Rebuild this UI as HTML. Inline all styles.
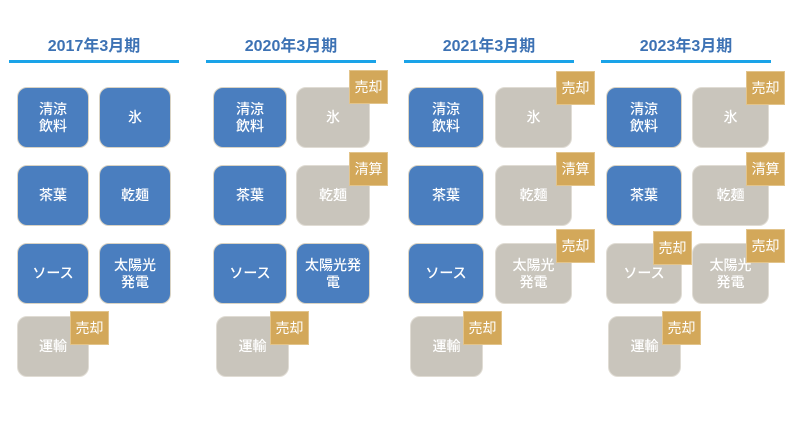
<!DOCTYPE html>
<html><head><meta charset="utf-8"><style>
body{margin:0;width:800px;height:423px;background:#fff;position:relative;overflow:hidden;font-family:"Liberation Sans","Noto Sans CJK JP",sans-serif}
.t{position:absolute;top:32px;width:170px;text-align:center;font-size:16px;font-weight:bold;color:#3d72b4}
.l{position:absolute;top:60px;width:170px;height:3px;background:#1aa3e8}
.b{position:absolute;border-radius:10px;display:flex;align-items:center;justify-content:center;text-align:center;color:#fff;font-size:14px;line-height:17px;font-weight:500;box-sizing:border-box;border:1px solid #d9d3c4}
.u{background:#4a7ebf}
.g{background:#c9c5bc;border-color:#e0dcd4}
.k{position:absolute;width:39px;height:34px;background:#d3a85a;color:#fff;font-size:14px;display:flex;align-items:center;justify-content:center;border:1px solid #e2c48c;box-sizing:border-box}
</style></head><body>
<div class="t" style="left:9px">2017年3月期</div><div class="l" style="left:9px"></div>
<div class="t" style="left:206px">2020年3月期</div><div class="l" style="left:206px"></div>
<div class="t" style="left:404px">2021年3月期</div><div class="l" style="left:404px"></div>
<div class="t" style="left:601px">2023年3月期</div><div class="l" style="left:601px"></div>

<div class="b u" style="left:17px;top:87px;width:72px;height:61px">清涼<br>飲料</div>
<div class="b u" style="left:99px;top:87px;width:72px;height:61px">氷</div>
<div class="b u" style="left:17px;top:165px;width:72px;height:61px">茶葉</div>
<div class="b u" style="left:99px;top:165px;width:72px;height:61px">乾麺</div>
<div class="b u" style="left:17px;top:243px;width:72px;height:61px">ソース</div>
<div class="b u" style="left:99px;top:243px;width:72px;height:61px">太陽光<br>発電</div>
<div class="b g" style="left:17px;top:316px;width:72px;height:61px">運輸</div>
<div class="k" style="left:70px;top:311px">売却</div>

<div class="b u" style="left:213px;top:87px;width:74px;height:61px">清涼<br>飲料</div>
<div class="b g" style="left:296px;top:87px;width:74px;height:61px">氷</div>
<div class="k" style="left:349px;top:70px">売却</div>
<div class="b u" style="left:213px;top:165px;width:74px;height:61px">茶葉</div>
<div class="b g" style="left:296px;top:165px;width:74px;height:61px">乾麺</div>
<div class="k" style="left:349px;top:152px">清算</div>
<div class="b u" style="left:213px;top:243px;width:74px;height:61px">ソース</div>
<div class="b u" style="left:296px;top:243px;width:74px;height:61px">太陽光発<br>電</div>
<div class="b g" style="left:216px;top:316px;width:73px;height:61px">運輸</div>
<div class="k" style="left:270px;top:311px">売却</div>

<div class="b u" style="left:408px;top:87px;width:76px;height:61px">清涼<br>飲料</div>
<div class="b g" style="left:495px;top:87px;width:77px;height:61px">氷</div>
<div class="k" style="left:556px;top:71px">売却</div>
<div class="b u" style="left:408px;top:165px;width:76px;height:61px">茶葉</div>
<div class="b g" style="left:495px;top:165px;width:77px;height:61px">乾麺</div>
<div class="k" style="left:556px;top:152px">清算</div>
<div class="b u" style="left:408px;top:243px;width:76px;height:61px">ソース</div>
<div class="b g" style="left:495px;top:243px;width:77px;height:61px">太陽光<br>発電</div>
<div class="k" style="left:556px;top:229px">売却</div>
<div class="b g" style="left:410px;top:316px;width:73px;height:61px">運輸</div>
<div class="k" style="left:463px;top:311px">売却</div>

<div class="b u" style="left:606px;top:87px;width:76px;height:61px">清涼<br>飲料</div>
<div class="b g" style="left:692px;top:87px;width:77px;height:61px">氷</div>
<div class="k" style="left:746px;top:71px">売却</div>
<div class="b u" style="left:606px;top:165px;width:76px;height:61px">茶葉</div>
<div class="b g" style="left:692px;top:165px;width:77px;height:61px">乾麺</div>
<div class="k" style="left:746px;top:152px">清算</div>
<div class="b g" style="left:606px;top:243px;width:76px;height:61px">ソース</div>
<div class="k" style="left:653px;top:231px">売却</div>
<div class="b g" style="left:692px;top:243px;width:77px;height:61px">太陽光<br>発電</div>
<div class="k" style="left:746px;top:229px">売却</div>
<div class="b g" style="left:608px;top:316px;width:73px;height:61px">運輸</div>
<div class="k" style="left:662px;top:311px">売却</div>
</body></html>
